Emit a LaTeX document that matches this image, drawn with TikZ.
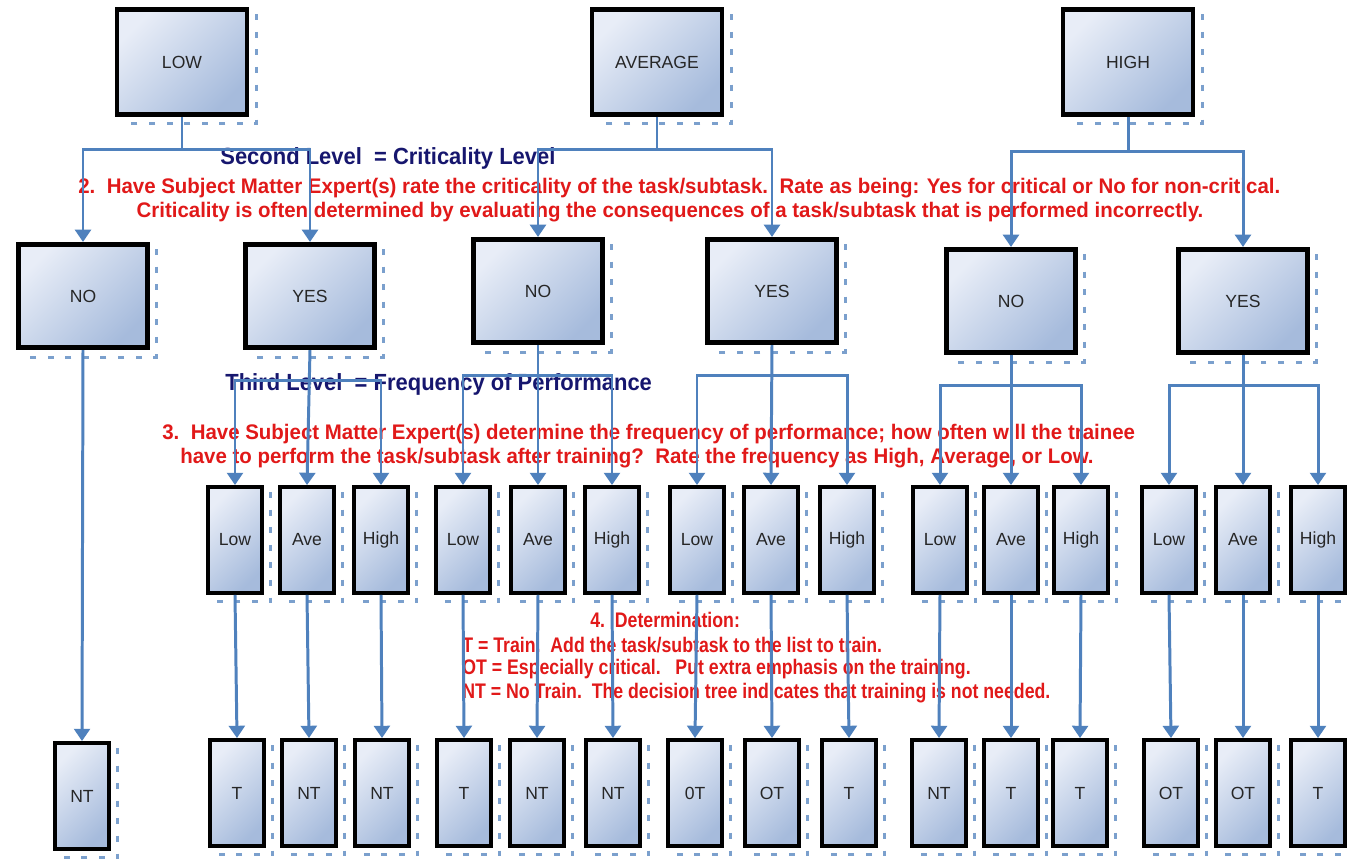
\documentclass[tikz,border=0pt]{standalone}
\usepackage{fontspec}
\setmainfont{Liberation Sans}
\newfontfamily\levelfont[FakeStretch=0.94]{Liberation Sans}
\newfontfamily\notefont[FakeStretch=0.97]{Liberation Sans}
\newfontfamily\narrowfont[FakeStretch=0.84]{Liberation Sans}
\usetikzlibrary{arrows.meta}
\definecolor{linkblue}{RGB}{79,129,189}
\definecolor{boxlight}{RGB}{232,237,247}
\definecolor{boxdark}{RGB}{166,187,220}
\definecolor{navytext}{RGB}{22,22,110}
\definecolor{redtext}{RGB}{225,25,25}

\begin{document}
\begin{tikzpicture}[
  x=0.02cm, y=-0.02cm,
  box/.style={draw=black,line width=2.6pt,left color=boxlight,right color=boxdark,shading angle=45,inner sep=0pt,font=\fontsize{10}{12}\selectfont,text=black!85},
  topbox/.style={box,minimum width=2.6cm,minimum height=2.1cm},
  critbox/.style={box,minimum width=2.57cm,minimum height=2.07cm},
  slimbox/.style={box,line width=2.2pt,minimum width=1.08cm,minimum height=2.12cm},
  shadowdash/.style={draw=linkblue!75,line width=1.7pt,dash pattern=on 3.4pt off 6.6pt},
  link/.style={draw=linkblue,line width=1.7pt,-{Triangle[width=9pt,length=7pt]}},
  navy/.style={text=navytext,font=\levelfont\bfseries\fontsize{13.3}{15}\selectfont,inner sep=0pt,anchor=west},
  redline/.style={text=redtext,font=\notefont\bfseries\fontsize{12}{14}\selectfont,inner sep=0pt,anchor=west},
  detline/.style={redline,font=\narrowfont\bfseries\fontsize{12}{14}\selectfont}
]
  \useasboundingbox[fill=white] (0,0) rectangle (1350,859);

  % first level = importance
  \node[topbox] (low) at (182,62) {LOW};
  \node[topbox] (ave) at (657,62) {AVERAGE};
  \node[topbox] (high) at (1128,62) {HIGH};

  % second level = criticality
  \node[critbox] (lowNo) at (83,296) {NO};
  \node[critbox] (lowYes) at (310,296) {YES};
  \node[critbox] (aveNo) at (538,291) {NO};
  \node[critbox] (aveYes) at (772,291) {YES};
  \node[critbox] (highNo) at (1011,301) {NO};
  \node[critbox] (highYes) at (1243,301) {YES};

  % third level = frequency
  \node[slimbox] (fa1) at (235,540) {Low};
  \node[slimbox] (fa2) at (307,540) {Ave};
  \node[slimbox] (fa3) at (381,540) {High};
  \node[slimbox] (fb1) at (463,540) {Low};
  \node[slimbox] (fb2) at (538,540) {Ave};
  \node[slimbox] (fb3) at (612,540) {High};
  \node[slimbox] (fc1) at (697,540) {Low};
  \node[slimbox] (fc2) at (771,540) {Ave};
  \node[slimbox] (fc3) at (847,540) {High};
  \node[slimbox] (fd1) at (940,540) {Low};
  \node[slimbox] (fd2) at (1011,540) {Ave};
  \node[slimbox] (fd3) at (1081,540) {High};
  \node[slimbox] (fe1) at (1169,540) {Low};
  \node[slimbox] (fe2) at (1243,540) {Ave};
  \node[slimbox] (fe3) at (1318,540) {High};

  % determination
  \node[slimbox] (d0) at (82,796) {NT};
  \node[slimbox] (da1) at (237,793) {T};
  \node[slimbox] (da2) at (309,793) {NT};
  \node[slimbox] (da3) at (382,793) {NT};
  \node[slimbox] (db1) at (464,793) {T};
  \node[slimbox] (db2) at (537,793) {NT};
  \node[slimbox] (db3) at (613,793) {NT};
  \node[slimbox] (dc1) at (695,793) {0T};
  \node[slimbox] (dc2) at (772,793) {OT};
  \node[slimbox] (dc3) at (849,793) {T};
  \node[slimbox] (dd1) at (939,793) {NT};
  \node[slimbox] (dd2) at (1011,793) {T};
  \node[slimbox] (dd3) at (1080,793) {T};
  \node[slimbox] (de1) at (1171,793) {OT};
  \node[slimbox] (de2) at (1243,793) {OT};
  \node[slimbox] (de3) at (1318,793) {T};

  \foreach \n in {low,ave,high,lowNo,lowYes,aveNo,aveYes,highNo,highYes,
      fa1,fa2,fa3,fb1,fb2,fb3,fc1,fc2,fc3,fd1,fd2,fd3,fe1,fe2,fe3,
      d0,da1,da2,da3,db1,db2,db3,dc1,dc2,dc3,dd1,dd2,dd3,de1,de2,de3}
    \draw[shadowdash] ([xshift=4pt,yshift=-4pt]\n.north east) -- ([xshift=4pt,yshift=-4pt]\n.south east) -- ([xshift=4pt,yshift=-4pt]\n.south west);

  % notes
  \node[navy] (secondLvl) at (220,158) {Second Level\ \ = Criticality Level};
  \node[redline] (critA) at (78,188) {2.\ \ Have Subject Matter Expert(s) rate the criticality of the task/subtask.\ \ Rate as being: Yes for critical or No for non-critical.};
  \node[redline,anchor=center] (critB) at (670,212) {Criticality is often determined by evaluating the consequences of a task/subtask that is performed incorrectly.};
  \node[navy] (thirdLvl) at (225,384) {Third Level\ \ = Frequency of Performance};
  \node[redline] (freqA) at (162,434) {3.\ \ Have Subject Matter Expert(s) determine the frequency of performance; how often will the trainee};
  \node[redline] (freqB) at (180,458) {have to perform the task/subtask after training?\ \ Rate the frequency as High, Average, or Low.};
  \node[detline] (detHead) at (590,620) {4.\ \ Determination:};
  \node[detline] (detT) at (462,645) {T = Train.\ \ Add the task/subtask to the list to train.};
  \node[detline] (detOT) at (462,669) {OT = Especially critical.\ \ \ Put extra emphasis on the training.};
  \node[detline] (detNT) at (462,693) {NT = No Train.\ \ The decision tree indicates that training is not needed.};

  % connectors
  \draw[link] (low.south) -- ++(0,33) -| (lowNo.north);
  \draw[link] (low.south) -- ++(0,33) -| (lowYes.north);
  \draw[link] (ave.south) -- ++(0,33) -| (aveNo.north);
  \draw[link] (ave.south) -- ++(0,33) -| (aveYes.north);
  \draw[link] (high.south) -- ++(0,35) -| (highNo.north);
  \draw[link] (high.south) -- ++(0,35) -| (highYes.north);

  \draw[link] (lowNo.south) -- (d0.north);
  \foreach \p/\g in {lowYes/a,aveNo/b,aveYes/c,highNo/d,highYes/e} {
    \draw[link] (\p.south) -- ++(0,30) -| (f\g1.north);
    \draw[link] (\p.south) -- (f\g2.north);
    \draw[link] (\p.south) -- ++(0,30) -| (f\g3.north);
  }
  \foreach \g in {a,b,c,d,e}
    \foreach \i in {1,2,3}
      \draw[link] (f\g\i.south) -- (d\g\i.north);
\end{tikzpicture}
\end{document}
